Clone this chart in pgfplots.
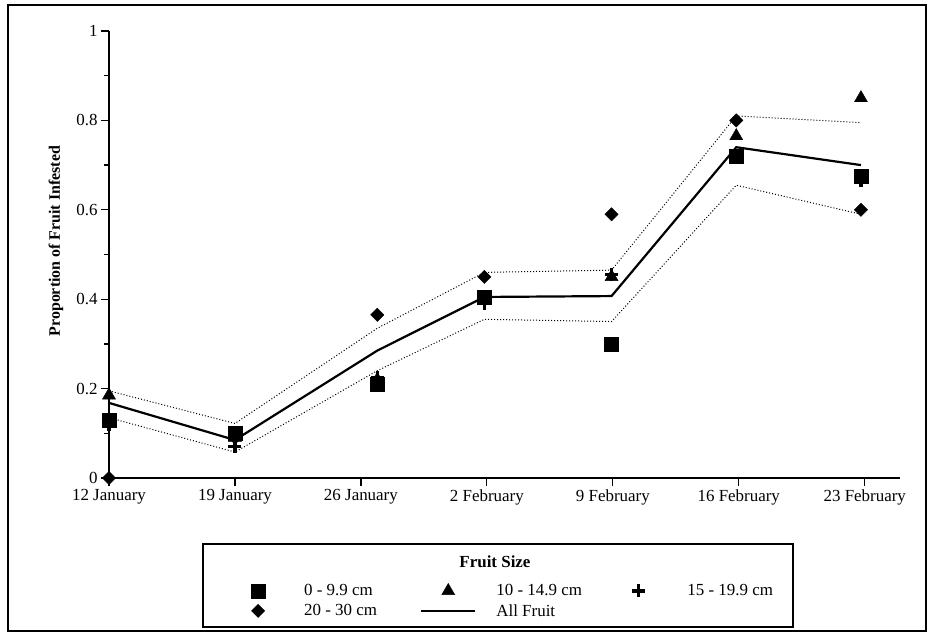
\documentclass[border=0pt]{standalone}
\usepackage{pgfplots}
\pgfplotsset{compat=1.18}
\usepackage{fontspec}
\setmainfont{Liberation Serif}
\pgfplotsset{markimg/.style={legend image code/.code={\path (0bp,0bp) (54bp,0bp); \draw[##1, draw=none] plot coordinates {(27bp,0bp)};}}}
\begin{document}
\begin{tikzpicture}
\path[use as bounding box] (-109bp,-155bp) rectangle (820bp,478bp);
\begin{axis}[
  at={(0,0)}, anchor=south west,
  scale only axis, width=791bp, height=447bp,
  xmin=0, xmax=6.28, ymin=0, ymax=1,
  clip=false,
  axis lines*=left,
  axis line style={line width=1.4bp, -},
  xtick={0,1,2,3,4,5,6},
  xticklabels={12 January, 19 January, 26 January, 2 February, 9 February, 16 February, 23 February},
  ytick={0,0.2,0.4,0.6,0.8,1},
  yticklabels={0,0.2,0.4,0.6,0.8,1},
  minor ytick={0.1,0.3,0.5,0.7,0.9},
  tick align=outside,
  major tick length=8bp, minor tick length=5bp,
  every tick/.style={line width=1.2bp, black},
  font=\fontsize{17}{20}\selectfont,
  ylabel={\bfseries Proportion of Fruit Infested},
  ylabel style={font=\fontsize{16}{19}\selectfont, at={(axis description cs:-0.067,0.53)}, anchor=center},
  legend image code/.code={\draw[mark repeat=2,mark phase=2,#1] plot coordinates {(0bp,0bp)(27bp,0bp)(54bp,0bp)};},
  legend columns=3,
  legend cell align=left,
  legend style={at={(axis description cs:0.1542,-0.2752)}, anchor=west, draw=none, fill=none,
    inner sep=0pt, row sep=3bp, font=\fontsize{17}{20}\selectfont},
]
% 0 - 9.9 cm
\addplot[draw=none, markimg, mark=square*, mark size=7bp, mark options={solid, fill=black, draw=black}]
  coordinates {(0,0.13) (1,0.10) (2.13,0.21) (2.98,0.405) (3.99,0.30) (4.98,0.72) (5.97,0.675)};
\addlegendentry{\hspace*{17bp}\makebox[114bp][l]{0 - 9.9 cm}}
% 10 - 14.9 cm
\addplot[draw=none, markimg, mark=triangle*, mark size=7.5bp, mark options={solid, fill=black, draw=black}]
  coordinates {(0,0.185) (1,0.09) (2.13,0.22) (2.98,0.40) (3.99,0.45) (4.98,0.765) (5.97,0.85)};
\addlegendentry{\hspace*{18bp}\makebox[113bp][l]{10 - 14.9 cm}}
% 15 - 19.9 cm
\addplot[draw=none, markimg, mark=+, mark size=6.5bp, mark options={solid, draw=black, line width=3.5bp}]
  coordinates {(0,0.12) (1,0.07) (2.13,0.225) (2.98,0.39) (3.99,0.455) (4.98,0.72) (5.97,0.665)};
\addlegendentry{\hspace*{20bp}15 - 19.9 cm}
% 20 - 30 cm
\addplot[draw=none, markimg, mark=square*, mark size=4.7bp, mark options={solid, rotate=45, fill=black, draw=black}]
  coordinates {(0,0.0) (1,0.09) (2.13,0.365) (2.98,0.45) (3.99,0.59) (4.98,0.80) (5.97,0.60)};
\addlegendentry{\hspace*{17bp}\makebox[114bp][l]{20 - 30 cm}}
% All fruit
\addplot[black, line width=2.2bp, mark=none]
  coordinates {(0,0.168) (1,0.085) (2.13,0.285) (2.98,0.405) (3.99,0.407) (4.98,0.74) (5.97,0.70)};
\addlegendentry{\hspace*{18bp}All Fruit}
% upper and lower bounds
\addplot[forget plot, black, line width=1bp, dash pattern=on 1bp off 2bp, mark=none]
  coordinates {(0,0.195) (1,0.122) (2.13,0.335) (2.98,0.46) (3.99,0.465) (4.98,0.81) (5.97,0.795)};
\addplot[forget plot, black, line width=1bp, dash pattern=on 1bp off 2bp, mark=none]
  coordinates {(0,0.135) (1,0.058) (2.13,0.24) (2.98,0.355) (3.99,0.35) (4.98,0.655) (5.97,0.59)};
\end{axis}
\draw[line width=1.5bp] (94bp,-66bp) rectangle (684bp,-149bp);
\node[font=\fontsize{17}{20}\selectfont\bfseries] at (386bp,-84bp) {Fruit Size};
\draw[line width=2bp] (-101bp,-153bp) rectangle (817bp,473bp);
\end{tikzpicture}
\end{document}
